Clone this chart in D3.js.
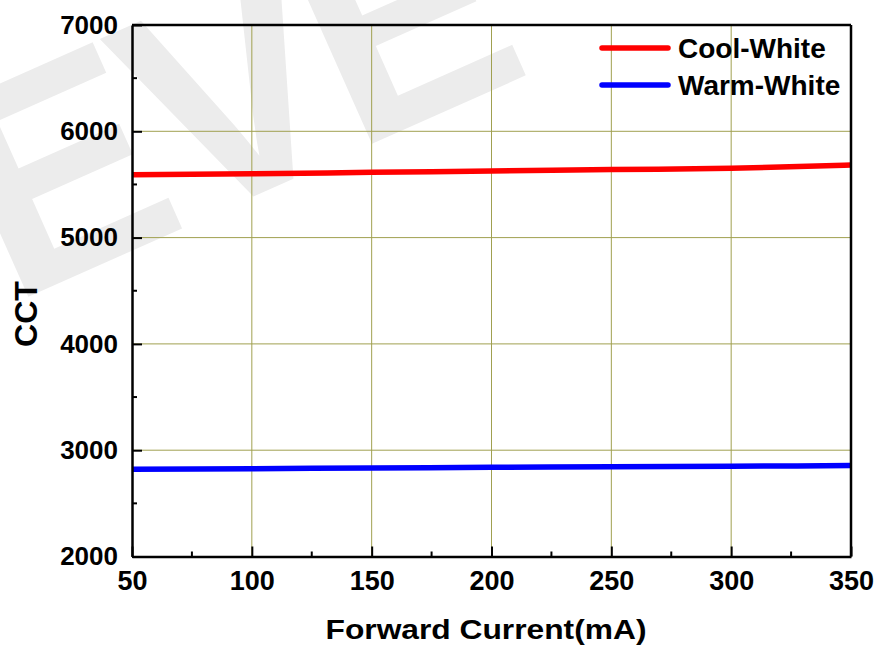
<!DOCTYPE html>
<html>
<head>
<meta charset="utf-8">
<script src="https://cdn.jsdelivr.net/npm/d3@7"></script>
<style>
  html, body { margin: 0; padding: 0; background: #fff; }
  svg { display: block; font-family: "Liberation Sans", Arial, sans-serif; }
</style>
</head>
<body>
<svg id="chart" width="878" height="650"></svg>
<script>
const currents = [50, 100, 150, 200, 250, 300, 350];
const coolWhite = [5592, 5600, 5614, 5626, 5640, 5652, 5683];
const warmWhite = [2820, 2826, 2833, 2839, 2845, 2849, 2855];
const seriesNames = ["Cool-White", "Warm-White"];
const seriesColors = ["#ff0000", "#0000ff"];
const xTicks = [50, 100, 150, 200, 250, 300, 350];
const yTicks = [2000, 3000, 4000, 5000, 6000, 7000];
const xLabel = "Forward Current(mA)";
const yLabel = "CCT";

(function () {
const svg = d3.select("#chart");
const pl = 132, pr = 851, pt = 25, pb = 556.5;

const x = d3.scaleLinear().domain([50, 350]).range([pl, pr]);
const y = d3.scaleLinear().domain([2000, 7000]).range([pb, pt]);

// watermark
svg.append("text")
  .attr("transform", "translate(10,305) rotate(-24)")
  .attr("font-size", 300)
  .attr("font-weight", "bold")
  .attr("fill", "#ececec")
  .attr("letter-spacing", -12)
  .text("EVE");

// gridlines
const grid = svg.append("g").attr("stroke", "#a0a050").attr("stroke-width", 1);
grid.selectAll("line.gx").data(xTicks.filter(d => d > 50 && d < 350)).enter()
  .append("line").attr("x1", d => x(d)).attr("x2", d => x(d))
  .attr("y1", pt).attr("y2", pb);
grid.selectAll("line.gy").data(yTicks.filter(d => d > 2000 && d < 7000)).enter()
  .append("line").attr("y1", d => y(d)).attr("y2", d => y(d))
  .attr("x1", pl).attr("x2", pr);

// lines
const line = d3.line().x((d, i) => x(currents[i])).y(d => y(d)).curve(d3.curveMonotoneX);
[coolWhite, warmWhite].forEach((s, k) => {
  svg.append("path").datum(s)
    .attr("d", line)
    .attr("fill", "none")
    .attr("stroke", seriesColors[k])
    .attr("stroke-width", 5.5);
});

const font = "Liberation Sans, Arial, sans-serif";
// axes
const xAxis = d3.axisBottom(x).tickValues(xTicks).tickFormat(d3.format("d"))
  .tickSize(-10).tickSizeOuter(0).tickPadding(14);
const gx = svg.append("g").attr("transform", `translate(0,${pb})`).call(xAxis);
gx.selectAll("text").attr("font-size", 27).attr("font-weight", "bold").attr("fill", "#000")
  .attr("font-family", font);
gx.selectAll(".tick line").attr("stroke", "#000").attr("stroke-width", 2);
gx.select(".domain").attr("stroke", "#000").attr("stroke-width", 2.5);
const xMinor = d3.range(75, 350, 50);
svg.append("g").selectAll("line").data(xMinor).enter().append("line")
  .attr("x1", d => x(d)).attr("x2", d => x(d)).attr("y1", pb).attr("y2", pb - 5)
  .attr("stroke", "#000").attr("stroke-width", 2);

const yAxis = d3.axisLeft(y).tickValues(yTicks).tickFormat(d3.format("d"))
  .tickSize(-10).tickSizeOuter(0).tickPadding(14);
const gy = svg.append("g").attr("transform", `translate(${pl},0)`).call(yAxis);
gy.selectAll("text").attr("font-size", 26).attr("font-weight", "bold").attr("fill", "#000")
  .attr("font-family", font);
gy.selectAll(".tick line").attr("stroke", "#000").attr("stroke-width", 2);
gy.select(".domain").attr("stroke", "#000").attr("stroke-width", 2.5);
const yMinor = d3.range(2500, 7000, 1000);
svg.append("g").selectAll("line").data(yMinor).enter().append("line")
  .attr("y1", d => y(d)).attr("y2", d => y(d)).attr("x1", pl).attr("x2", pl + 5)
  .attr("stroke", "#000").attr("stroke-width", 2);

// frame top/right
svg.append("line").attr("x1", pl).attr("x2", pr).attr("y1", pt).attr("y2", pt)
  .attr("stroke", "#000").attr("stroke-width", 2.5);
svg.append("line").attr("x1", pr).attr("x2", pr).attr("y1", pt).attr("y2", pb)
  .attr("stroke", "#000").attr("stroke-width", 2.5);

// axis titles
svg.append("text").attr("x", 486).attr("y", 639).attr("text-anchor", "middle")
  .attr("font-size", 28).attr("font-weight", "bold")
  .attr("textLength", 321).attr("lengthAdjust", "spacingAndGlyphs")
  .text(xLabel);
svg.append("text").attr("transform", "translate(37,314) rotate(-90)")
  .attr("text-anchor", "middle").attr("font-size", 32).attr("font-weight", "bold")
  .text(yLabel);

// legend
const leg = svg.append("g");
seriesNames.forEach((n, i) => {
  const ly = 48 + i * 37;
  leg.append("line").attr("x1", 602).attr("x2", 668).attr("y1", ly).attr("y2", ly)
    .attr("stroke", seriesColors[i]).attr("stroke-width", 5.5).attr("stroke-linecap", "round");
  leg.append("text").attr("x", 678).attr("y", ly + 10)
    .attr("font-size", 28).attr("font-weight", "bold").text(n);
});
})();
</script>
</body>
</html>
